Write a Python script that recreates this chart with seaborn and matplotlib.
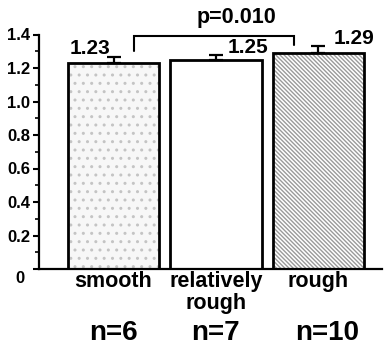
import matplotlib
matplotlib.use("Agg")
import matplotlib.pyplot as plt
import seaborn as sns
import pandas as pd

# Surface roughness groups and their mean values with upper SEM
groups = ["smooth", "relatively\nrough", "rough"]
means = [1.23, 1.25, 1.29]
sem_upper = [0.034, 0.030, 0.043]
n_counts = [6, 7, 10]
p_label = "p=0.010"
ytick_vals = [0, 0.2, 0.4, 0.6, 0.8, 1.0, 1.2, 1.4]
ytick_labels = ["", "0.2", "0.4", "0.6", "0.8", "1.0", "1.2", "1.4"]
yminor_vals = [0.1, 0.3, 0.5, 0.7, 0.9, 1.1, 1.3]

fills = ["#f7f7f7", "#ffffff", "#ffffff"]
hatches = ["..", "", "\\" * 8]
hatch_colors = ["#c4c4c4", "#ffffff", "#9a9a9a"]

sns.set_theme(style="white")
plt.rcParams["font.family"] = ["Liberation Sans", "DejaVu Sans"]
plt.rcParams["font.weight"] = "bold"
plt.rcParams["hatch.linewidth"] = 1.0
for key in ["text.color", "xtick.color", "ytick.color", "axes.labelcolor", "axes.edgecolor"]:
    plt.rcParams[key] = "black"

df = pd.DataFrame({"group": groups, "mean": means})

fig = plt.figure(figsize=(3.87, 3.51), dpi=100)
ax = fig.add_axes([39 / 387, 82 / 351, 343 / 387, 268 / 351])

# filled, patterned bars
sns.barplot(data=df, x="group", y="mean", hue="group", palette=fills,
            width=0.89, linewidth=0, errorbar=None, legend=False, ax=ax)
for patch, h, hc in zip(ax.patches, hatches, hatch_colors):
    patch.set_hatch(h)
    patch.set_edgecolor(hc)
    patch.set_linewidth(0)

# black outlines on top
sns.barplot(data=df, x="group", y="mean", fill=False, color="black",
            width=0.89, linewidth=2, errorbar=None, ax=ax)

# upper error bars
ax.errorbar(range(len(groups)), means, yerr=[[0] * len(groups), sem_upper],
            fmt="none", ecolor="black", elinewidth=1.6, capsize=5, capthick=1.6,
            zorder=5)

# significance bracket between smooth and rough
ax.plot([0.2, 0.2, 1.76, 1.76], [1.30, 1.394, 1.394, 1.337], color="black",
        lw=1.5, clip_on=False, solid_joinstyle="miter")
ax.text(1.195, 1.50, p_label, ha="center", va="center", fontsize=15.5)

# value labels
label_pos = [(-0.23, 1.319), (1.31, 1.325), (2.35, 1.379)]
for (lx, ly), m in zip(label_pos, means):
    ax.text(lx, ly, f"{m:.2f}", ha="center", va="center", fontsize=15)

# sample sizes
n_x = [0.0, 0.99, 2.08]
for nx, n in zip(n_x, n_counts):
    ax.text(nx, -0.382, f"n={n}", ha="center", va="center", fontsize=20,
            clip_on=False)

# zero label sits below the baseline
ax.text(-0.912, -0.054, "0", ha="center", va="center", fontsize=12,
        clip_on=False)

ax.set_xlim(-0.727, 2.62)
ax.set_ylim(0, 1.6)
ax.set_yticks(ytick_vals, ytick_labels)
ax.set_yticks(yminor_vals, minor=True)
ax.tick_params(axis="y", which="major", direction="out", left=True,
               length=4.5, width=1.5, labelsize=12, pad=2)
ax.tick_params(axis="y", which="minor", direction="out", left=True,
               length=3, width=1.2)
ax.tick_params(axis="x", length=0, pad=1.5, labelsize=15.5)
for lab in ax.get_xticklabels():
    lab.set_linespacing(1.05)
ax.set_xlabel("")
ax.set_ylabel("")

sns.despine(ax=ax)
ax.spines["left"].set_bounds(0, 1.4)
for side in ["left", "bottom"]:
    ax.spines[side].set_linewidth(1.6)
    ax.spines[side].set_color("black")

fig.savefig("out.png", dpi=100)
